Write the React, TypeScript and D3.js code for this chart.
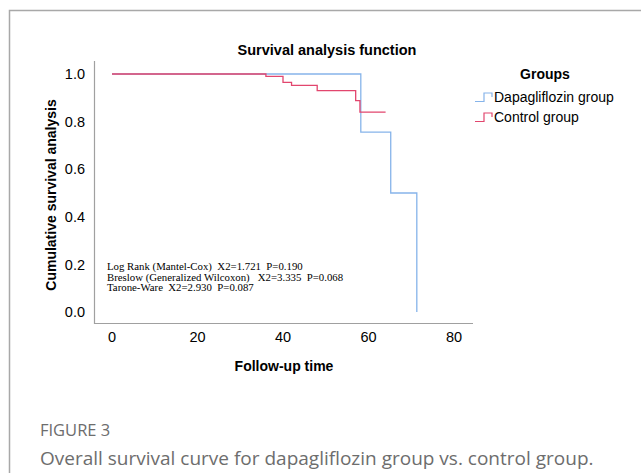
import React from "react";
import * as d3 from "d3";

// Kaplan-Meier steps: [time, survival]
const dapaSteps: [number, number][] = [
  [0, 1.0],
  [58.2, 0.756],
  [65.2, 0.5],
  [71.3, 0.0],
];
const dapaEnd = 71.3;

const controlSteps: [number, number][] = [
  [0, 1.0],
  [36, 0.99],
  [40, 0.965],
  [42, 0.952],
  [48, 0.93],
  [57, 0.888],
  [58, 0.84],
];
const controlEnd = 64;

const xTicks = [0, 20, 40, 60, 80];
const yTicks = [0, 0.2, 0.4, 0.6, 0.8, 1.0];

const groups = ["Dapagliflozin group", "Control group"];
const colors = ["#86b4ea", "#e2466e"];

const statLines = [
  "Log Rank (Mantel-Cox)  X2=1.721  P=0.190",
  "Breslow (Generalized Wilcoxon)   X2=3.335  P=0.068",
  "Tarone-Ware  X2=2.930  P=0.087",
];

const W = 641;
const H = 473;

export default function App() {
  const x = d3.scaleLinear().domain([0, 80]).range([112, 454]);
  const y = d3.scaleLinear().domain([0, 1]).range([312, 74]);

  const line = d3
    .line<[number, number]>()
    .x((d) => x(d[0]))
    .y((d) => y(d[1]))
    .curve(d3.curveStepAfter);

  const withEnd = (steps: [number, number][], end: number) =>
    [...steps, [end, steps[steps.length - 1][1]] as [number, number]];

  const sans = "Arial, 'Liberation Sans', sans-serif";

  return (
    <div style={{ position: "absolute", left: 0, top: 0 }}>
      <svg width={W} height={H} style={{ display: "block" }}>
        <rect width={W} height={H} fill="#fff" />
        {/* figure frame */}
        <path d={`M9.5,${H} V10.5 H${W}`} fill="none" stroke="#a8a8a8" strokeWidth={1.5} />

        {/* axes */}
        <path d="M94.5,61 V323.5 H473" fill="none" stroke="#a0a0a0" strokeWidth={1.2} />

        <text x={327} y={55} textAnchor="middle" fontFamily={sans} fontWeight="bold" fontSize={14.5}>
          Survival analysis function
        </text>

        {yTicks.map((t) => (
          <text key={t} x={85} y={y(t)} dy="0.36em" textAnchor="end" fontFamily={sans} fontSize={14.5}>
            {t.toFixed(1)}
          </text>
        ))}
        {xTicks.map((t) => (
          <text key={t} x={x(t)} y={342} textAnchor="middle" fontFamily={sans} fontSize={14.5}>
            {t}
          </text>
        ))}

        <text
          transform="translate(56,195) rotate(-90)"
          textAnchor="middle"
          fontFamily={sans}
          fontWeight="bold"
          fontSize={14}
        >
          Cumulative survival analysis
        </text>
        <text x={284} y={371} textAnchor="middle" fontFamily={sans} fontWeight="bold" fontSize={14}>
          Follow-up time
        </text>

        {/* curves */}
        <path d={line(withEnd(dapaSteps, dapaEnd)) || ""} fill="none" stroke={colors[0]} strokeWidth={1.3} />
        <path d={line(withEnd(controlSteps, controlEnd)) || ""} fill="none" stroke={colors[1]} strokeWidth={1.3} />

        {/* stats */}
        {statLines.map((s, i) => (
          <text
            key={i}
            x={107}
            y={270 + i * 10.5}
            fontFamily="'Liberation Serif', 'Times New Roman', serif"
            fontSize={10.8}
            style={{ whiteSpace: "pre" }}
          >
            {s}
          </text>
        ))}

        {/* legend */}
        <text x={545} y={79} textAnchor="middle" fontFamily={sans} fontWeight="bold" fontSize={14}>
          Groups
        </text>
        {groups.map((g, i) => {
          const yy = 97 + i * 20;
          return (
            <g key={g}>
              <path
                d={`M475,${yy + 4.5} H484 V${yy - 4} H492 V${yy}`}
                fill="none"
                stroke={colors[i]}
                strokeWidth={1.2}
              />
              <text x={494} y={yy} dy="0.36em" fontFamily={sans} fontSize={14}>
                {g}
              </text>
            </g>
          );
        })}

        {/* caption */}
        <text x={40} y={436} fontFamily="'Open Sans', sans-serif" fontSize={16.5} fill="#6d6d6d">
          FIGURE 3
        </text>
        <text x={40} y={465} fontFamily="'Open Sans', sans-serif" fontSize={19} fill="#6d6d6d">
          Overall survival curve for dapagliflozin group vs. control group.
        </text>
      </svg>
    </div>
  );
}
